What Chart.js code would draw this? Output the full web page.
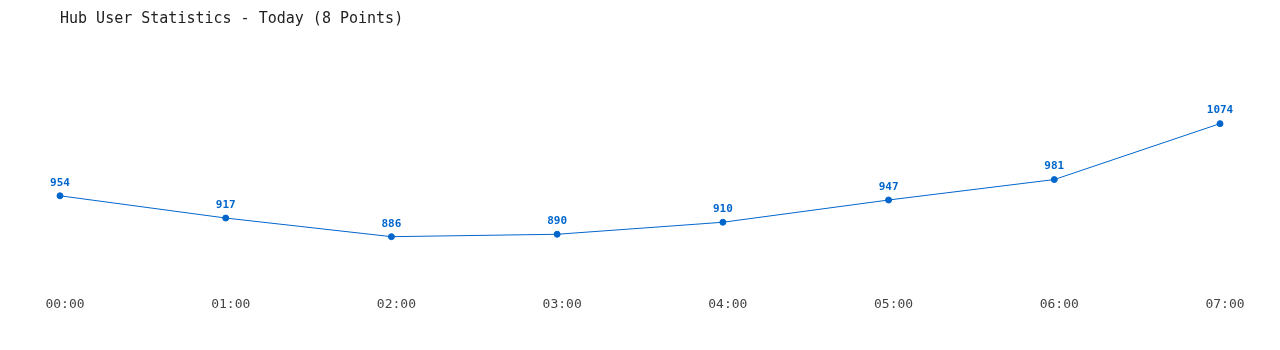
<!DOCTYPE html>
<html>
<head>
<meta charset="utf-8">
<script src="https://cdn.jsdelivr.net/npm/chart.js@4/dist/chart.umd.min.js"></script>
<style>
  html, body { margin: 0; padding: 0; background: #fff; }
  #wrap { width: 1280px; height: 350px; }
</style>
</head>
<body>
<div id="wrap"><canvas id="hub-chart"></canvas></div>
<script>
const hours = ['00:00', '01:00', '02:00', '03:00', '04:00', '05:00', '06:00', '07:00'];
const users = [954, 917, 886, 890, 910, 947, 981, 1074];

const blue = '#0066cc';
const mono = '"DejaVu Sans Mono", "Liberation Mono", monospace';

// draws the number above every point
const pointLabels = {
    id: 'pointLabels',
    afterDatasetsDraw(chart) {
        const ctx = chart.ctx;
        const meta = chart.getDatasetMeta(0);
        ctx.save();
        ctx.font = 'bold 11px ' + mono;
        ctx.fillStyle = blue;
        ctx.textAlign = 'center';
        ctx.textBaseline = 'middle';
        meta.data.forEach((pt, i) => {
            ctx.fillText(String(users[i]), pt.x, pt.y - 13);
        });
        ctx.restore();
    },
};

new Chart(document.getElementById('hub-chart'), {
    type: 'line',
    data: {
        labels: hours,
        datasets: [
            {
                label: 'Users',
                data: users,
                borderColor: blue,
                backgroundColor: blue,
                borderWidth: 1,
                pointRadius: 3,
                pointHoverRadius: 3,
                tension: 0,
                fill: false,
            },
        ],
    },
    options: {
        responsive: true,
        maintainAspectRatio: false,
        animation: false,
        layout: { padding: { left: 60, right: 60, top: 10, bottom: 38 } },
        plugins: {
            legend: { display: false },
            tooltip: { enabled: false },
            title: {
                display: true,
                text: 'Hub User Statistics - Today (8 Points)',
                align: 'start',
                color: '#222',
                font: { family: mono, size: 15, weight: 'normal' },
                padding: { top: 0, bottom: 80 },
            },
        },
        scales: {
            x: {
                offset: false,
                grid: { display: false },
                border: { display: false },
                ticks: {
                    color: '#444',
                    font: { family: mono, size: 13 },
                    padding: 0,
                    labelOffset: 5,
                    maxRotation: 0,
                    autoSkip: false,
                },
            },
            y: {
                display: false,
                min: 800,
                max: 1100,
            },
        },
    },
    plugins: [pointLabels],
});
</script>
</body>
</html>
